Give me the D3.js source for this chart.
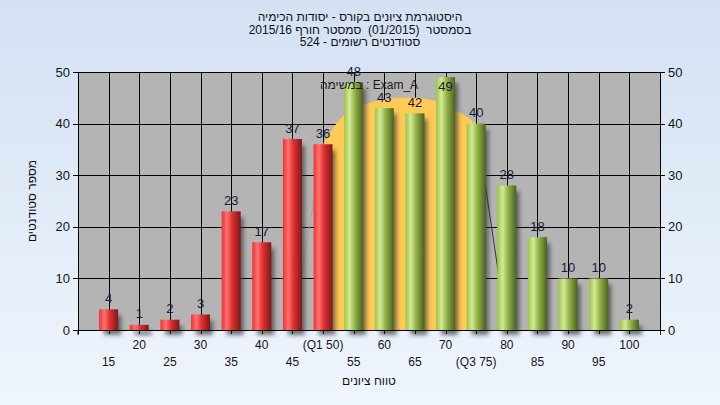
<!DOCTYPE html>
<html><head><meta charset="utf-8">
<script src="https://cdn.jsdelivr.net/npm/d3@7"></script>
<style>
html,body{margin:0;padding:0;}
body{width:720px;height:405px;overflow:hidden;position:relative;}
text{font-family:"Liberation Sans",Arial,sans-serif;}
.ttl{position:absolute;left:0;width:720px;text-align:center;font:12px "Liberation Sans",Arial,sans-serif;color:#111;line-height:13px;white-space:pre;}
</style></head>
<body>
<svg id="chart" width="720" height="405" style="position:absolute;left:0;top:0"></svg>
<script>
// ---- data ----
const titleLines = ["היסטוגרמת ציונים בקורס - יסודות הכימיה", "בסמסטר  (01/2015)  סמסטר חורף 2015/16", "סטודנטים רשומים - 524"];
const legendText = "במשימה : Exam_A";
const xTitle = "טווח ציונים";
const yTitle = "מספר סטודנטים";
const categories = [15,20,25,30,35,40,45,50,55,60,65,70,75,80,85,90,95,100];
const tickLabels = ["15","20","25","30","35","40","45","(Q1 50)","55","60","65","70","(Q3 75)","80","85","90","95","100"];
const counts = [4,1,2,3,23,17,37,36,48,43,42,49,40,28,18,10,10,2];
const redUpTo = 50;
const yTicks = [0,10,20,30,40,50];
// normal-curve band between Q1 and Q3
const curveX = [50,52.5,55,57.5,60,62.5,65,67.5,70,72.5,75];
const curveY = [36,40.5,43,44,44.6,45,45,44.6,43.6,42,40];
const edgeLeft = [[45,0],[50,36]];
const edgeRight = [[75,40],[80,0]];

// ---- layout ----
const W=720,H=405;
const L=78,R=660,T=72,B=330;
const svg=d3.select("#chart");
const defs=svg.append("defs");

const bg=defs.append("linearGradient").attr("id","bg").attr("x1",0).attr("y1",0).attr("x2",0).attr("y2",1);
bg.append("stop").attr("offset","0").attr("stop-color","#d3e1f3");
bg.append("stop").attr("offset","1").attr("stop-color","#eff5fc");
svg.append("rect").attr("width",W).attr("height",H).attr("fill","url(#bg)");

function grad(id,stops){
  const g=defs.append("linearGradient").attr("id",id).attr("x1",0).attr("y1",0).attr("x2",1).attr("y2",0);
  stops.forEach(s=>g.append("stop").attr("offset",s[0]).attr("stop-color",s[1]));
}
grad("gRed",[[0,"#f23030"],[0.28,"#ff7272"],[0.55,"#e03030"],[1,"#7c1818"]]);
grad("gGreen",[[0,"#9fc443"],[0.28,"#d3ea98"],[0.55,"#94b548"],[1,"#4b6121"]]);
const f=defs.append("filter").attr("id","blur").attr("x","-50%").attr("y","-50%").attr("width","200%").attr("height","200%");
f.append("feGaussianBlur").attr("stdDeviation",2);

const x=d3.scaleLinear().domain([10,105]).range([L,R]);
const y=d3.scaleLinear().domain([0,50]).range([B,T]);

// plot background
svg.append("rect").attr("x",L).attr("y",T).attr("width",R-L).attr("height",B-T).attr("fill","#b4b4b4");

// grid
const grid=svg.append("g").attr("stroke","#000").attr("stroke-width",1).attr("shape-rendering","crispEdges");
grid.selectAll("line.h").data(yTicks.filter(d=>d>0)).join("line")
  .attr("x1",L).attr("x2",R).attr("y1",d=>Math.round(y(d))+0.5).attr("y2",d=>Math.round(y(d))+0.5);
grid.selectAll("line.v").data(categories).join("line")
  .attr("y1",T).attr("y2",B).attr("x1",d=>Math.round(x(d))+0.5).attr("x2",d=>Math.round(x(d))+0.5);

// orange band
const cdata=curveX.map((v,i)=>[v,curveY[i]]);
svg.append("path").datum(cdata)
  .attr("d",d3.area().x(d=>x(d[0])).y0(y(0)).y1(d=>y(d[1])).curve(d3.curveMonotoneX))
  .attr("fill","#ffca55");
svg.append("path").datum(edgeLeft).attr("d",d3.line().x(d=>x(d[0])).y(d=>y(d[1])))
  .attr("stroke","#a4a4a4").attr("fill","none").attr("stroke-width",1);
svg.append("path").datum(edgeRight).attr("d",d3.line().x(d=>x(d[0])).y(d=>y(d[1])))
  .attr("stroke","#333").attr("fill","none").attr("stroke-width",1);

// bars
const bw=19;
const data=categories.map((c,i)=>({c,v:counts[i]}));
svg.append("g").selectAll("rect").data(data).join("rect")
  .attr("x",d=>x(d.c)-bw/2+5).attr("y",d=>y(d.v)+6).attr("width",bw-2).attr("height",d=>y(0)-y(d.v)-1)
  .attr("fill","#333").attr("opacity",0.65).attr("filter","url(#blur)");
svg.append("g").selectAll("rect").data(data).join("rect")
  .attr("x",d=>x(d.c)-bw/2).attr("y",d=>y(d.v)).attr("width",bw).attr("height",d=>y(0)-y(d.v))
  .attr("fill",d=>d.c<=redUpTo?"url(#gRed)":"url(#gGreen)");

// axes
const axL=svg.append("g").attr("transform",`translate(${L},0)`).call(d3.axisLeft(y).tickValues(yTicks).tickSize(5).tickPadding(3));
const axR=svg.append("g").attr("transform",`translate(${R},0)`).call(d3.axisRight(y).tickValues(yTicks).tickSize(5).tickPadding(3));
const axB=svg.append("g").attr("transform",`translate(0,${B})`).call(d3.axisBottom(x).tickValues([10].concat(categories)).tickSize(4).tickFormat(""));
[axL,axR,axB].forEach(a=>{
  a.select(".domain").attr("stroke","#000").attr("shape-rendering","crispEdges");
  a.selectAll(".tick line").attr("stroke","#000").attr("shape-rendering","crispEdges");
  a.selectAll("text").attr("font-size",13).attr("fill","#141414").attr("font-family","'Liberation Sans',Arial,sans-serif");
});
svg.append("line").attr("x1",L).attr("x2",L).attr("y1",B).attr("y2",B+5).attr("stroke","#000");
svg.append("line").attr("x1",R+0.5).attr("x2",R+0.5).attr("y1",B).attr("y2",B+5).attr("stroke","#000");

// x tick labels, two rows
svg.append("g").selectAll("text").data(categories).join("text")
  .attr("x",d=>x(d)).attr("y",(d,i)=>i%2===1?349:366)
  .attr("text-anchor","middle").attr("font-size",12).attr("fill","#141414")
  .text((d,i)=>tickLabels[i]);

// value labels
svg.append("g").selectAll("text").data(data).join("text")
  .attr("x",d=>x(d.c)).attr("y",d=>{const t=y(d.v)-6.5; return (t-9<T-6)?y(d.v)+14:t;})
  .attr("text-anchor","middle").attr("font-size",13).attr("fill","#1a1a30")
  .text(d=>d.v);

// legend
svg.append("text").attr("x",(L+R)/2).attr("y",89).attr("text-anchor","middle")
  .attr("font-size",12).attr("fill","#1a1a1a").attr("direction","ltr").text(legendText);

// axis titles
svg.append("text").attr("x",(L+R)/2).attr("y",385).attr("text-anchor","middle")
  .attr("font-size",12).attr("fill","#111").text(xTitle);
svg.append("text").attr("transform",`translate(36,${(T+B)/2}) rotate(-90)`).attr("text-anchor","middle")
  .attr("font-size",12).attr("fill","#111").text(yTitle);

// titles (HTML for reliable bidi layout)
d3.select("body").selectAll("div.ttl").data(titleLines).join("div")
  .attr("class","ttl").attr("dir","rtl")
  .style("top",(d,i)=>(11+i*12.5)+"px")
  .text(d=>d);
</script>
</body></html>
